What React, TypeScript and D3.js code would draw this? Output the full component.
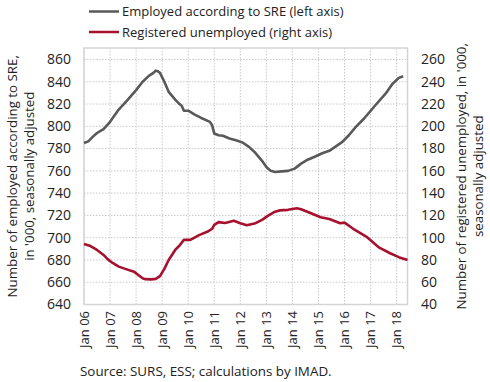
import React from "react";
import * as d3 from "d3";

// months since Jan 2006
const employedMonths = [0, 2, 4, 6, 9, 12, 16, 20, 24, 27, 30, 32, 33, 34, 35, 37, 39, 42, 44, 45, 46, 48, 51, 54, 58, 59, 60, 62, 64, 67, 70, 73, 76, 79, 82, 84, 86, 88, 91, 94, 97, 100, 103, 106, 110, 113, 116, 119, 122, 125, 129, 134, 139, 142, 145, 147];
const employed = [785, 786.5, 790.5, 794, 797.5, 804, 815, 823.5, 832.5, 840, 845.5, 848, 850, 849.5, 848, 840, 831, 824, 820, 818.5, 814, 814, 810.5, 807.5, 804, 801, 793.5, 792, 791.5, 789, 787.5, 785.5, 781.5, 776, 769, 763.5, 760, 759, 759.5, 760, 762, 766.5, 770, 772.5, 776, 778, 782, 786, 792, 799, 807, 818.5, 829.5, 838, 843.5, 845];

const registeredMonths = [0, 3, 6, 9, 11, 13, 16, 19, 23, 25, 27, 28, 31, 33, 35, 37, 39, 42, 44, 46, 49, 53, 57, 59, 60, 62, 65, 69, 72, 75, 79, 82, 85, 88, 90, 94, 98, 100, 104, 109, 113, 118, 120, 124, 130, 136, 141, 145, 149];
const registered = [94.3, 92.5, 89, 84.5, 80.5, 77.5, 74, 72, 69.5, 66.5, 63.5, 62.8, 62.6, 63, 65.5, 72, 80, 89, 93, 98, 98, 102.3, 105.5, 108, 111.5, 114, 113.2, 115.2, 113, 111.2, 113, 116, 120, 123.3, 124.5, 125, 126.4, 125.5, 122.4, 118.3, 116.8, 113, 113.5, 108, 101, 91, 86, 82.5, 80];

const leftTicks = [640, 660, 680, 700, 720, 740, 760, 780, 800, 820, 840, 860];
const rightTicks = [40, 60, 80, 100, 120, 140, 160, 180, 200, 220, 240, 260];
const xTickLabels = ["Jan 06", "Jan 07", "Jan 08", "Jan 09", "Jan 10", "Jan 11", "Jan 12", "Jan 13", "Jan 14", "Jan 15", "Jan 16", "Jan 17", "Jan 18"];

const seriesNames = ["Employed according to SRE (left axis)", "Registered unemployed (right axis)"];
const colors = ["#595959", "#a6112d"];

const FONT = "'Open Sans', sans-serif";
const TEXT = "#222";

export default function App() {
  const W = 490, H = 382;
  const left = 84, right = 407.5, top = 48, bottom = 304.5;
  const x = d3.scaleLinear().domain([0, 149]).range([left, right]);
  const yL = d3.scaleLinear().domain([640, 860]).range([304.5, 59.5]);
  const yR = d3.scaleLinear().domain([40, 260]).range([304.5, 59.5]);

  const lineL = d3.line<number>().x((_, i) => x(employedMonths[i])).y((d) => yL(d));
  const lineR = d3.line<number>().x((_, i) => x(registeredMonths[i])).y((d) => yR(d));

  const midY = (top + bottom) / 2;

  return (
    <svg width={W} height={H} style={{ position: "absolute", left: 0, top: 0, background: "#fff" }} fontFamily={FONT}>
      {/* grid */}
      {leftTicks.map((t) => (
        <line key={"h" + t} x1={left} x2={right} y1={yL(t)} y2={yL(t)} stroke="#c9c9c9" strokeWidth={1} strokeDasharray="1.5,1.5" />
      ))}
      {xTickLabels.map((_, i) => (
        <line key={"v" + i} x1={x(i * 12)} x2={x(i * 12)} y1={top} y2={bottom} stroke="#c9c9c9" strokeWidth={1} strokeDasharray="1.5,1.5" />
      ))}
      <rect x={left} y={top} width={right - left} height={bottom - top} fill="none" stroke="#d4d4d4" strokeWidth={1.5} />

      {/* lines */}
      <path d={lineR(registered) || ""} fill="none" stroke={colors[1]} strokeWidth={2.6} strokeLinejoin="round" />
      <path d={lineL(employed) || ""} fill="none" stroke={colors[0]} strokeWidth={2.6} strokeLinejoin="round" />

      {/* ticks */}
      {leftTicks.map((t) => (
        <text key={"lt" + t} x={71} y={yL(t)} dy="0.35em" textAnchor="end" fontSize={14} fill={TEXT}>{t}</text>
      ))}
      {rightTicks.map((t) => (
        <text key={"rt" + t} x={421} y={yR(t)} dy="0.35em" textAnchor="start" fontSize={14} fill={TEXT}>{t}</text>
      ))}
      {xTickLabels.map((l, i) => (
        <text key={"xt" + i} transform={`translate(${x(i * 12)},311) rotate(-90)`} textAnchor="end" dy="0.35em" fontSize={13} fill={TEXT}>{l}</text>
      ))}

      {/* axis titles */}
      <text transform={`translate(17,${midY}) rotate(-90)`} textAnchor="middle" fontSize={13.3} fill={TEXT}>
        <tspan x={0} dy={0}>Number of employed according to SRE,</tspan>
        <tspan x={0} dy={17}>in '000, seasonally adjusted</tspan>
      </text>
      <text transform={`translate(466,${midY}) rotate(-90)`} textAnchor="middle" fontSize={13.3} fill={TEXT}>
        <tspan x={0} dy={0}>Number of registered unemployed, in '000,</tspan>
        <tspan x={0} dy={17}>seasonally adjusted</tspan>
      </text>

      {/* legend */}
      {seriesNames.map((n, i) => (
        <g key={n}>
          <line x1={89} x2={119} y1={11.5 + i * 20.5} y2={11.5 + i * 20.5} stroke={colors[i]} strokeWidth={2.5} />
          <text x={122} y={11.5 + i * 20.5} dy="0.35em" fontSize={13} fill={TEXT}>{n}</text>
        </g>
      ))}

      <text x={80} y={376} fontSize={13.4} fill={TEXT}>Source: SURS, ESS; calculations by IMAD.</text>
    </svg>
  );
}
